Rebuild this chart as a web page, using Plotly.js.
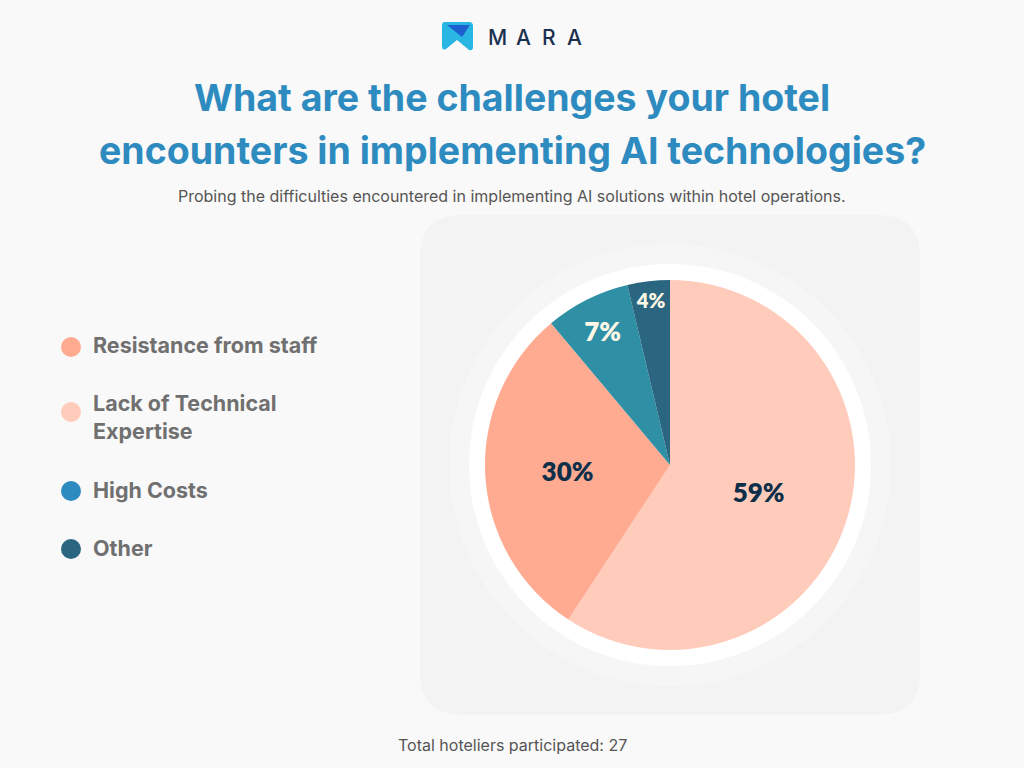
<!DOCTYPE html>
<html>
<head>
<meta charset="utf-8">
<script src="https://cdn.plot.ly/plotly-3.0.1.min.js"></script>
<style>
  html, body { margin: 0; padding: 0; background: #F9F9F9; }
  #chart { width: 1024px; height: 768px; }
</style>
</head>
<body>
<div id="chart"></div>
<script>
// ---- Data ----
const categories = ["Lack of Technical Expertise", "Resistance from staff", "High Costs", "Other"];
const counts = [16, 8, 2, 1]; // of 27 hoteliers -> 59%, 30%, 7%, 4%
const sliceColors = ["#FFCCBC", "#FFAB91", "#2E8FA5", "#2A6680"];
const labelColors = ["#0D2F4A", "#0D2F4A", "#FFF8E7", "#FFF8E7"];

const legendLabels = ["Resistance from staff", "Lack of Technical<br>Expertise", "High Costs", "Other"];
const legendColors = ["#FFAB91", "#FFCCBC", "#2E8BC0", "#2A6680"];

const titleLines = ["What are the challenges your hotel", "encounters in implementing AI technologies?"];
const subtitleText = "Probing the difficulties encountered in implementing AI solutions within hotel operations.";
const footerText = "Total hoteliers participated: 27";
const brandLetters = ["M", "A", "R", "A"];

// ---- Helpers (pixel -> paper) ----
const W = 1024, H = 768;
const px = x => x / W;
const py = y => 1 - y / H;

function roundRect(x0, y0, x1, y1, r) {
  const p = (x, y) => px(x) + "," + py(y);
  return "M" + p(x0 + r, y0) + " L" + p(x1 - r, y0) + " Q" + p(x1, y0) + " " + p(x1, y0 + r) +
    " L" + p(x1, y1 - r) + " Q" + p(x1, y1) + " " + p(x1 - r, y1) +
    " L" + p(x0 + r, y1) + " Q" + p(x0, y1) + " " + p(x0, y1 - r) +
    " L" + p(x0, y0 + r) + " Q" + p(x0, y0) + " " + p(x0 + r, y0) + " Z";
}
function circle(cx, cy, r, color) {
  return { type: "circle", xref: "paper", yref: "paper",
    x0: px(cx - r), x1: px(cx + r), y0: py(cy + r), y1: py(cy - r),
    fillcolor: color, line: { width: 0 }, layer: "below" };
}

const cx = 670, cy = 465, R = 185;

const shapes = [
  { type: "path", xref: "paper", yref: "paper", path: roundRect(420, 215, 920, 715, 42),
    fillcolor: "#F3F3F3", line: { width: 0 }, layer: "below" },
  circle(cx, cy, 221, "#F6F6F6"),
  circle(cx, cy, 201, "#FFFFFF"),
];

// logo icon
function pth(pts) { return "M" + pts.map(p => px(p[0]) + "," + py(p[1])).join(" L") + " Z"; }
shapes.push({ type: "path", xref: "paper", yref: "paper",
  path: "M" + px(445) + "," + py(22) + " L" + px(469) + "," + py(22) + " Q" + px(473) + "," + py(22) + " " + px(473) + "," + py(26) +
    " L" + px(473) + "," + py(47) + " Q" + px(473) + "," + py(51) + " " + px(469) + "," + py(50) +
    " L" + px(457) + "," + py(40) + " L" + px(446) + "," + py(49) + " Q" + px(442) + "," + py(51) + " " + px(442) + "," + py(46) +
    " L" + px(442) + "," + py(25) + " Q" + px(442) + "," + py(22) + " " + px(445) + "," + py(22) + " Z",
  fillcolor: "#29B6E3", line: { width: 0 } });
shapes.push({ type: "path", xref: "paper", yref: "paper",
  path: pth([[447, 25], [470, 25], [462, 37]]), fillcolor: "#1D5FCF", line: { width: 0 } });

// legend markers
const legendY = [347, 412, 491, 549];
const legendTextY = [345, 417, 490, 548];
legendColors.forEach((c, i) => shapes.push(circle(71, legendY[i], 10, c)));

const annotations = [];
const brandX = [497, 523, 549, 574];
brandLetters.forEach((l, i) => annotations.push({
  text: l, x: px(brandX[i]), y: py(37), xref: "paper", yref: "paper", showarrow: false,
  font: { family: "Inter, 'Open Sans', sans-serif", size: 21, color: "#1B2F4F", weight: 500 },
  xanchor: "center", yanchor: "middle" }));
const titleY = [97, 150];
titleLines.forEach((t, i) => annotations.push({
  text: t, x: 0.5, y: py(titleY[i]), xref: "paper", yref: "paper", showarrow: false,
  font: { family: "Inter, sans-serif", size: 37.5, color: "#2E8BC0", weight: 700 }, xanchor: "center", yanchor: "middle" }));
annotations.push(
  { text: subtitleText, x: 0.5, y: py(196), xref: "paper", yref: "paper", showarrow: false,
    font: { family: "Inter, sans-serif", size: 16, color: "#555555" }, xanchor: "center", yanchor: "middle" },
  { text: footerText, x: 0.5, y: py(745), xref: "paper", yref: "paper", showarrow: false,
    font: { family: "Inter, sans-serif", size: 16, color: "#555555" }, xanchor: "center", yanchor: "middle" }
);
legendLabels.forEach((t, i) => annotations.push({
  text: t, x: px(91), y: py(legendTextY[i]), xref: "paper", yref: "paper", showarrow: false,
  xanchor: "left", yanchor: "middle", align: "left",
  font: { family: "Inter, sans-serif", size: 21.5, color: "#707070", weight: 700 }
}));

const trace = {
  type: "pie",
  labels: categories,
  values: counts,
  sort: false,
  direction: "clockwise",
  rotation: 0,
  marker: { colors: sliceColors, line: { width: 0 } },
  textinfo: "percent",
  texttemplate: "%{percent:.0%}",
  textposition: "inside",
  insidetextorientation: "horizontal",
  textfont: { family: "Lato, 'Open Sans', sans-serif", size: 26, color: labelColors, weight: 800 },
  hoverinfo: "label+percent",
  showlegend: false,
  domain: { x: [px(cx - R), px(cx + R)], y: [py(cy + R), py(cy - R)] }
};

const layout = {
  width: W, height: H,
  margin: { l: 0, r: 0, t: 0, b: 0 },
  paper_bgcolor: "#F9F9F9",
  plot_bgcolor: "#F9F9F9",
  showlegend: false,
  shapes: shapes,
  annotations: annotations
};

Plotly.newPlot("chart", [trace], layout, { displayModeBar: false, staticPlot: true });
</script>
</body>
</html>
